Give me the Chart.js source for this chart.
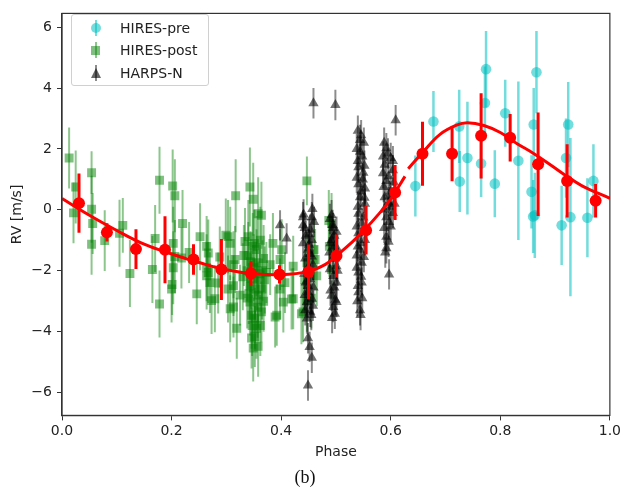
<!DOCTYPE html>
<html>
<head>
<meta charset="utf-8">
<script src="https://cdn.jsdelivr.net/npm/chart.js@4"></script>
<style>
  body { margin: 0; background: #fff; }
  #wrap { position: relative; width: 624px; height: 498px; }
  #legend {
    position: absolute; left: 71px; top: 14px; width: 136px; height: 70px;
    border: 1px solid #d0d0d0; border-radius: 3px; background: rgba(255,255,255,0.85);
    font: 14px "DejaVu Sans", sans-serif; color: #222;
  }
  #legend .row { position: absolute; left: 0; height: 20px; line-height: 20px; }
  #legend .lbl { position: absolute; left: 48px; white-space: nowrap; }
  #legend .mk { position: absolute; }
</style>
</head>
<body>
<div id="wrap">
  <canvas id="chart" width="624" height="498"></canvas>
  <div id="legend">
    <div class="row" style="top:3px">
      <span class="mk" style="left:23px;top:2px;width:2px;height:16px;background:rgba(0,191,191,0.55)"></span>
      <span class="mk" style="left:19px;top:5px;width:10px;height:10px;border-radius:5px;background:rgba(0,191,191,0.55)"></span>
      <span class="lbl">HIRES-pre</span>
    </div>
    <div class="row" style="top:25px">
      <span class="mk" style="left:23px;top:2px;width:2px;height:16px;background:rgba(0,128,0,0.45)"></span>
      <span class="mk" style="left:19px;top:6px;width:9px;height:9px;background:rgba(0,128,0,0.5)"></span>
      <span class="lbl">HIRES-post</span>
    </div>
    <div class="row" style="top:48px">
      <span class="mk" style="left:23px;top:2px;width:2px;height:16px;background:rgba(0,0,0,0.45)"></span>
      <span class="mk" style="left:19px;top:5px;width:0;height:0;border-left:5px solid transparent;border-right:5px solid transparent;border-bottom:10px solid rgba(0,0,0,0.6)"></span>
      <span class="lbl">HARPS-N</span>
    </div>
  </div>
</div>
<script>
const X_TICKS = [0, 0.2, 0.4, 0.6, 0.8, 1.0]
const Y_TICKS = [-6, -4, -2, 0, 2, 4, 6]

// HIRES-pre
const PRE_PHASE = [0.645, 0.678, 0.725, 0.726, 0.740, 0.765, 0.774, 0.772, 0.790, 0.809, 0.833,
  0.866, 0.861, 0.857, 0.863, 0.860, 0.924, 0.920, 0.912, 0.928, 0.959, 0.970]
const PRE_RV = [0.78, 2.90, 2.74, 0.93, 1.70, 1.52, 4.62, 3.51, 0.86, 3.17, 1.61,
  4.52, 2.80, 0.59, -0.18, -0.22, 2.80, 1.70, -0.51, -0.24, -0.26, 0.95]
const PRE_ERR = [1.0, 1.0, 1.2, 1.0, 1.85, 1.1, 1.25, 1.2, 1.1, 1.1, 2.6,
  1.35, 1.2, 1.2, 1.4, 1.2, 1.4, 1.3, 1.3, 2.6, 1.3, 1.2]

// HIRES-post
const POST_PHASE = [0.013, 0.025, 0.021, 0.054, 0.054, 0.056, 0.054, 0.078, 0.105, 0.111,
  0.124, 0.170, 0.165, 0.178, 0.178, 0.202, 0.206, 0.220, 0.203, 0.206,
  0.218, 0.200, 0.203, 0.201, 0.252, 0.267, 0.264, 0.246, 0.273, 0.264,
  0.270, 0.267, 0.264, 0.279, 0.299, 0.307, 0.316, 0.313, 0.303, 0.307,
  0.313, 0.313, 0.319, 0.317, 0.334, 0.343, 0.349, 0.358, 0.364, 0.340,
  0.343, 0.346, 0.349, 0.346, 0.352, 0.358, 0.355, 0.352, 0.364, 0.343,
  0.355, 0.358, 0.370, 0.373, 0.340, 0.350, 0.360, 0.345, 0.365, 0.355,
  0.362, 0.348, 0.338, 0.368, 0.389, 0.392, 0.398, 0.404, 0.419, 0.437,
  0.422, 0.407, 0.401, 0.398, 0.447, 0.422, 0.440, 0.447, 0.465, 0.462,
  0.492, 0.492, 0.380, 0.385, 0.330, 0.325, 0.288, 0.285, 0.232, 0.303,
  0.332, 0.338, 0.352, 0.357, 0.362, 0.347, 0.368, 0.344, 0.356, 0.351,
  0.341, 0.366, 0.443, 0.455, 0.460, 0.447, 0.487, 0.488]
const POST_RV = [1.70, 0.75, -0.10, 1.22, 0.02, -0.45, -1.13, -1.01, -0.77, -0.51,
  -2.09, -0.94, -1.96, -3.09, 0.97, 0.78, 0.46, -0.45, -1.10, -1.53,
  -1.58, -2.60, -1.90, -2.45, -0.88, -1.42, -2.17, -2.76, -2.98, -1.90,
  -2.39, -2.06, -1.20, -2.92, -0.83, -1.10, -1.63, -1.80, -2.60, -3.25,
  -2.49, -3.19, -3.89, 0.46, -1.04, 0.75, 0.35, -0.13, -0.18, -0.88,
  -3.03, -3.46, -4.54, -4.21, -4.16, -4.48, -3.89, -3.56, -3.35, -2.50,
  -1.74, -2.80, -2.30, -2.06, -1.50, -1.90, -2.10, -2.25, -2.60, -1.30,
  -1.00, -1.20, -2.00, -3.00, -3.52, -3.46, -2.60, -3.03, -2.93, -3.41,
  -1.85, -2.39, -1.31, -1.63, 0.95, -2.92, -3.35, -1.74, -2.17, -1.63,
  -0.45, -1.96, -1.80, -1.10, -2.20, -2.80, -1.55, -2.40, -1.40, -0.88,
  -1.50, -2.90, -2.60, -3.20, -3.80, -3.80, -1.60, -1.70, -2.30, -1.10,
  -2.75, -2.00, -2.30, -2.90, -1.30, -3.00, -0.35, -1.20]
const POST_ERR = [1.0, 1.2, 1.0, 0.7, 1.1, 1.0, 1.0, 1.0, 1.1, 0.9,
  1.1, 1.1, 1.1, 1.1, 1.1, 1.2, 1.2, 1.1, 1.2, 1.2,
  1.0, 1.1, 1.2, 1.0, 1.1, 1.1, 1.1, 1.0, 1.1, 1.1,
  1.0, 1.0, 1.0, 1.1, 1.2, 1.2, 1.1, 1.1, 1.1, 1.1,
  1.0, 1.0, 1.0, 1.2, 1.1, 1.3, 1.2, 1.2, 1.1, 1.2,
  1.1, 1.1, 1.1, 1.0, 1.0, 1.0, 1.0, 1.0, 1.0, 1.1,
  1.1, 1.1, 1.1, 1.0, 1.1, 1.1, 1.0, 1.0, 1.0, 1.1,
  1.1, 1.1, 1.0, 1.0, 1.0, 1.0, 1.0, 1.0, 1.0, 1.0,
  1.0, 1.0, 1.0, 1.0, 0.8, 1.0, 1.0, 1.0, 1.0, 1.0,
  1.0, 1.0, 1.0, 1.0, 1.1, 1.0, 1.0, 1.0, 1.0, 1.2,
  1.0, 1.0, 1.0, 1.0, 1.0, 1.0, 1.1, 1.0, 1.0, 1.1,
  1.0, 1.0, 1.0, 1.0, 1.0, 1.0, 1.0, 1.0]

// HARPS-N
const HARPS_PHASE = [0.459, 0.440, 0.457, 0.443, 0.453, 0.440, 0.456, 0.449, 0.456, 0.447,
  0.453, 0.445, 0.449, 0.456, 0.447, 0.453, 0.447, 0.449, 0.456, 0.449,
  0.398, 0.410, 0.440, 0.456, 0.451, 0.445,
  0.441, 0.460, 0.444, 0.458, 0.442, 0.459, 0.443, 0.458, 0.444, 0.451, 0.449, 0.452, 0.455, 0.452,
  0.499, 0.492, 0.494, 0.501, 0.492, 0.497, 0.503, 0.495, 0.501, 0.495,
  0.501, 0.492, 0.501, 0.495, 0.498, 0.488,
  0.489, 0.497, 0.490, 0.499, 0.489, 0.497, 0.490, 0.499, 0.493, 0.503, 0.495,
  0.544, 0.551, 0.544, 0.540, 0.550, 0.541, 0.553, 0.544, 0.553, 0.541,
  0.547, 0.541, 0.553, 0.544, 0.547, 0.541, 0.547, 0.541, 0.544, 0.549, 0.538,
  0.540, 0.546, 0.538, 0.548, 0.541, 0.552, 0.538, 0.546, 0.540, 0.550, 0.538,
  0.546, 0.540, 0.551, 0.538, 0.546, 0.540, 0.548, 0.539, 0.545, 0.552,
  0.609, 0.592, 0.600, 0.589, 0.604, 0.592, 0.600, 0.589, 0.600, 0.592,
  0.600, 0.592, 0.592, 0.597, 0.586, 0.596,
  0.588, 0.595, 0.604, 0.586, 0.596, 0.606, 0.587, 0.598, 0.607, 0.588,
  0.597, 0.604, 0.588, 0.596, 0.590]
const HARPS_RV = [3.50, -0.24, 0.03, -0.60, -0.65, -1.10, -0.99, -1.31, -1.53, -1.96,
  -2.28, -2.39, -2.71, -2.92, -3.03, -3.35, -3.57, -4.22, -4.86, -5.77,
  -0.51, -0.94, -0.51, -0.24, -1.15, -0.85,
  -0.15, -0.40, -1.60, -1.80, -2.10, -2.55, -2.80, -3.15, -3.30, -0.80, -2.50, -1.45, -3.45, -4.50,
  3.44, -0.18, -0.50, -0.72, -0.99, -1.20, -1.30, -1.58, -1.85, -2.17,
  -2.39, -2.82, -3.03, -3.19, -3.41, -1.40,
  -0.30, -0.85, -1.10, -1.60, -1.95, -2.55, -2.65, -2.95, -3.55, -2.00, -0.60,
  2.29, 2.20, 1.91, 1.60, 1.22, 0.84, 0.70, 0.41, 0.20, -0.13,
  -0.45, -0.77, -0.99, -1.31, -1.74, -2.06, -2.39, -2.71, -3.30, 1.00, -1.50,
  2.60, 2.45, 2.00, 1.75, 1.40, 1.45, 1.05, 0.60, 0.10, -0.25, -0.55,
  -1.10, -1.20, -1.55, -1.90, -2.20, -2.50, -2.90, -3.00, -3.45, 0.40,
  2.94, 2.02, 1.70, 1.48, 1.30, 0.95, 0.60, 0.41, 0.10, -0.24,
  -0.55, -0.88, -1.26, -2.12, 1.20, 0.25,
  2.20, 1.85, 1.60, 1.75, 1.10, 0.90, 0.75, 0.45, 0.20, 0.00,
  -0.40, -0.10, -0.60, -1.05, -1.40]
const HARPS_ERR = 0.5

// binned points
const BIN_PHASE = [0.031, 0.082, 0.135, 0.188, 0.240, 0.291, 0.345, 0.397, 0.450, 0.501,
  0.555, 0.608, 0.658, 0.712, 0.765, 0.818, 0.869, 0.922, 0.974]
const BIN_RV = [0.22, -0.74, -1.29, -1.31, -1.63, -1.96, -2.09, -2.12, -2.04, -1.51,
  -0.67, 0.57, 1.84, 1.84, 2.43, 2.37, 1.50, 0.95, 0.30]
const BIN_ERR = [0.97, 0.3, 0.65, 1.1, 0.5, 1.0, 0.4, 0.3, 0.9, 0.7,
  0.8, 0.9, 1.05, 0.9, 1.4, 0.78, 1.7, 1.2, 0.55]

// model curve (null = break in the drawn line)
const MODEL_PHASE = [0.00, 0.05, 0.10, 0.15, 0.20, 0.25, 0.30, 0.35, 0.40, 0.45, 0.48, 0.50,
  0.53, 0.55, 0.58, 0.60, 0.626, 0.629, 0.632, 0.66, 0.69, 0.72, 0.74, 0.77, 0.80,
  0.83, 0.86, 0.89, 0.92, 0.95, 1.00]
const MODEL_RV = [0.37, -0.18, -0.68, -1.13, -1.45, -1.73, -1.97, -2.10, -2.13, -2.02, -1.80, -1.52,
  -1.05, -0.70, -0.10, 0.35, 1.10, null, 1.35, 1.92, 2.48, 2.78, 2.86, 2.77, 2.54,
  2.18, 1.86, 1.50, 1.12, 0.78, 0.38]

const FONT = "'DejaVu Sans', sans-serif"
const INK = "#222"

const pts = (xs, ys) => xs.map((x, i) => ({ x: x, y: ys[i] }))
const errs = (xs, e) => xs.map((_, i) => Array.isArray(e) ? e[i] : e)

const errorBars = {
  id: "errorBars",
  beforeDatasetDraw(chart, args) {
    const ds = chart.data.datasets[args.index]
    if (!ds.err) return
    const { ctx, chartArea, scales } = chart
    ctx.save()
    ctx.beginPath()
    ctx.rect(chartArea.left, chartArea.top, chartArea.right - chartArea.left, chartArea.bottom - chartArea.top)
    ctx.clip()
    ctx.strokeStyle = ds.errColor
    ctx.lineWidth = ds.errWidth
    ds.data.forEach((p, i) => {
      const px = scales.x.getPixelForValue(p.x)
      ctx.beginPath()
      ctx.moveTo(px, scales.y.getPixelForValue(p.y - ds.err[i]))
      ctx.lineTo(px, scales.y.getPixelForValue(p.y + ds.err[i]))
      ctx.stroke()
    })
    ctx.restore()
  },
  afterDraw(chart) {
    const { ctx, chartArea: a } = chart
    ctx.save()
    ctx.strokeStyle = "#333"
    ctx.lineWidth = 1.2
    ctx.strokeRect(a.left, a.top, a.right - a.left, a.bottom - a.top)
    ctx.restore()
  }
}

const fmt = (v) => v < 0 ? "\u2212" + Math.abs(v) : "" + v

new Chart(document.getElementById("chart"), {
  type: "scatter",
  data: {
    datasets: [
      {
        label: "binned", data: pts(BIN_PHASE, BIN_RV), err: BIN_ERR,
        errColor: "#ff0000", errWidth: 3, order: 0,
        pointStyle: "circle", pointRadius: 6, backgroundColor: "#ff0000", borderWidth: 0
      },
      {
        label: "model", data: pts(MODEL_PHASE, MODEL_RV), order: 1,
        showLine: true, spanGaps: false, pointRadius: 0, borderColor: "#ff0000", borderWidth: 3,
        tension: 0.4
      },
      {
        label: "HIRES-pre", data: pts(PRE_PHASE, PRE_RV), err: PRE_ERR,
        errColor: "rgba(0,191,191,0.55)", errWidth: 2.5, order: 2,
        pointStyle: "circle", pointRadius: 5.3, backgroundColor: "rgba(0,191,191,0.55)", borderWidth: 0
      },
      {
        label: "HARPS-N", data: pts(HARPS_PHASE, HARPS_RV), err: errs(HARPS_PHASE, HARPS_ERR),
        errColor: "rgba(0,0,0,0.45)", errWidth: 2, order: 3,
        pointStyle: "triangle", pointRadius: 6, backgroundColor: "rgba(0,0,0,0.55)", borderWidth: 0
      },
      {
        label: "HIRES-post", data: pts(POST_PHASE, POST_RV), err: POST_ERR,
        errColor: "rgba(0,128,0,0.45)", errWidth: 2, order: 4,
        pointStyle: "rect", pointRadius: 6.3, backgroundColor: "rgba(0,128,0,0.5)", borderWidth: 0
      },
    ]
  },
  options: {
    animation: false,
    responsive: false,
    events: [],
    layout: { padding: { left: 0, right: 14, top: 6, bottom: 0 } },
    plugins: {
      legend: { display: false },
      tooltip: { enabled: false },
      title: {
        display: true, position: "bottom", text: "(b)", color: "#111",
        font: { family: "'Liberation Serif', 'Times New Roman', serif", size: 18, weight: "normal" },
        padding: { top: 0, bottom: 9 }
      }
    },
    scales: {
      x: {
        type: "linear", min: 0, max: 1,
        afterBuildTicks: (s) => { s.ticks = X_TICKS.map(v => ({ value: v })) },
        afterFit: (s) => { s.height = 52 },
        ticks: { color: INK, font: { family: FONT, size: 14 }, padding: 3, maxRotation: 0,
          callback: (v) => v.toFixed(1) },
        grid: { drawOnChartArea: false, tickLength: 5, color: "#333" },
        border: { color: "#333", width: 1.2 },
        title: { display: true, text: "Phase", color: INK, font: { family: FONT, size: 14 },
          padding: { top: 0, bottom: 7 } }
      },
      y: {
        type: "linear", min: -6.75, max: 6.45,
        afterBuildTicks: (s) => { s.ticks = Y_TICKS.map(v => ({ value: v })) },
        afterFit: (s) => { s.width = 62 },
        ticks: { color: INK, font: { family: FONT, size: 14 }, padding: 5, callback: fmt },
        grid: { drawOnChartArea: false, tickLength: 5, color: "#333" },
        border: { color: "#333", width: 1.2 },
        title: { display: true, text: "RV [m/s]", color: INK, font: { family: FONT, size: 14 },
          padding: { top: 9, bottom: 0 } }
      }
    }
  },
  plugins: [errorBars]
})
</script>
</body>
</html>
